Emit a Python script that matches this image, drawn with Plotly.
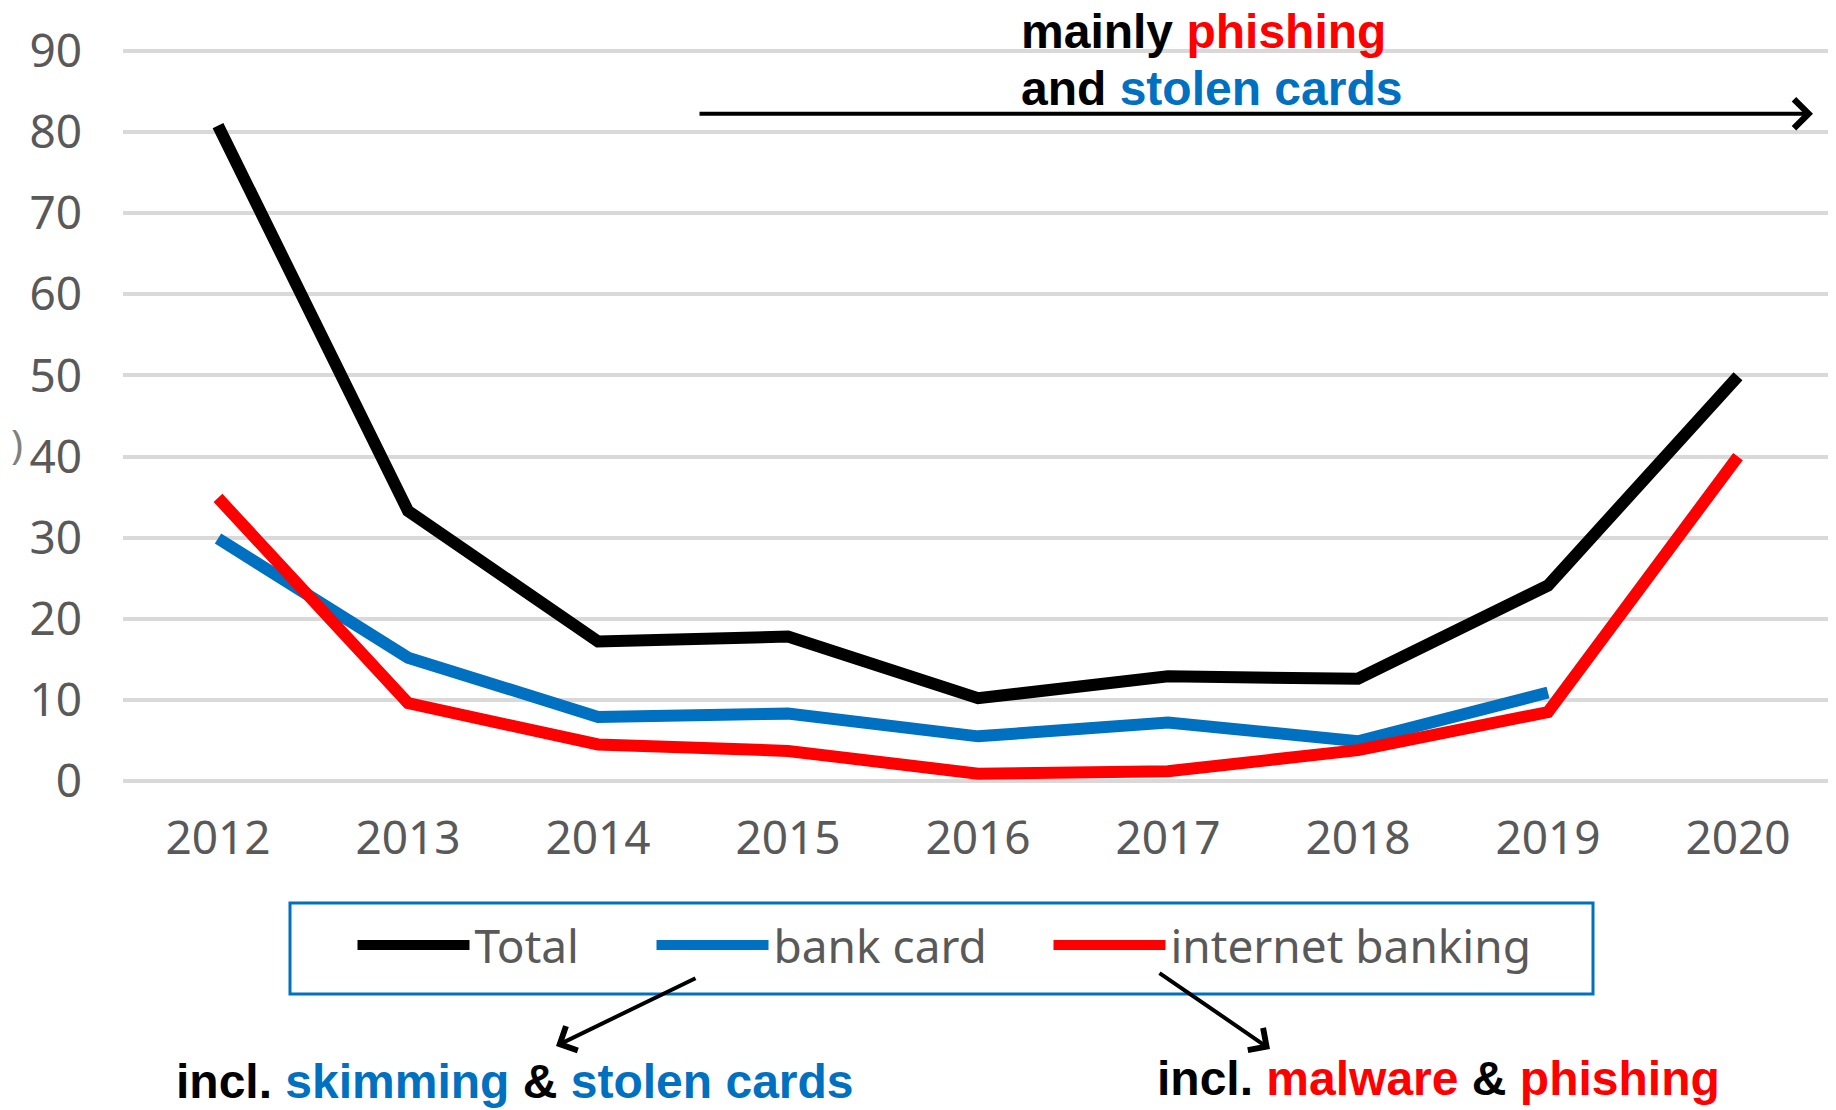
import plotly.graph_objects as go

# ---- data ----
years = ["2012", "2013", "2014", "2015", "2016", "2017", "2018", "2019", "2020"]
total = [80.8, 33.3, 17.2, 17.8, 10.2, 12.9, 12.6, 24.1, 49.9]
bank_card = [29.9, 15.2, 7.9, 8.3, 5.5, 7.2, 4.9, 10.9, None]
internet_banking = [34.9, 9.6, 4.5, 3.7, 0.9, 1.2, 3.8, 8.5, 40.0]
y_ticks = [0, 10, 20, 30, 40, 50, 60, 70, 80, 90]

series_names = ["Total", "bank card", "internet banking"]
series_colors = ["#000000", "#0070C0", "#FF0000"]
legend_ids = ["legend", "legend2", "legend3"]

# ---- layout geometry (pixels, in the reference frame) ----
OFF = 8  # page body margin of the browser
W, H = 1836, 1110
L, R, T, B = 123, 3, 47, 325
PW = W - L - R
PH = H - T - B


def px(x):
    return (x - L) / PW


def py(y):
    return (H - B - y) / PH


fig = go.Figure()
for name, vals, col, lg in zip(series_names, [total, bank_card, internet_banking], series_colors, legend_ids):
    fig.add_trace(go.Scatter(
        x=years, y=vals, name=name, mode="lines",
        line=dict(color=col, width=12),
        connectgaps=False, legend=lg,
    ))

tick_font = dict(family="Noto Sans, DejaVu Sans, sans-serif", size=46, color="#595959")
ann_font = dict(family="Liberation Sans, Arial, sans-serif", size=48, color="#000000", weight="bold")

annotations = [
    dict(text='mainly <span style="color:#FF0000">phishing</span>', x=px(1019), y=py(31),
         xref="paper", yref="paper", xanchor="left", yanchor="middle", showarrow=False, font=ann_font),
    dict(text='and <span style="color:#0070C0">stolen cards</span>', x=px(1019), y=py(88),
         xref="paper", yref="paper", xanchor="left", yanchor="middle", showarrow=False, font=ann_font),
    dict(text='incl. <span style="color:#0070C0">skimming</span> &amp; <span style="color:#0070C0">stolen cards</span>',
         x=px(174), y=py(1081), xref="paper", yref="paper", xanchor="left", yanchor="middle",
         showarrow=False, font=ann_font),
    dict(text='incl. <span style="color:#FF0000">malware</span> &amp; <span style="color:#FF0000">phishing</span>',
         x=px(1155), y=py(1078), xref="paper", yref="paper", xanchor="left", yanchor="middle",
         showarrow=False, font=ann_font),
    # arrows
    dict(text="", x=px(1813), y=py(113.7), xref="paper", yref="paper", showarrow=True,
         ax=698 - 1813, ay=0, arrowhead=4, arrowsize=1.4, arrowwidth=4, arrowcolor="#000000"),
    dict(text="", x=px(556), y=py(1046), xref="paper", yref="paper", showarrow=True,
         ax=697 - 556, ay=977.5 - 1046, arrowhead=4, arrowsize=1.3, arrowwidth=4, arrowcolor="#000000"),
    dict(text="", x=px(1270), y=py(1049), xref="paper", yref="paper", showarrow=True,
         ax=1158 - 1270, ay=972 - 1049, arrowhead=4, arrowsize=1.3, arrowwidth=4, arrowcolor="#000000"),
    # clipped fragment of the axis title at far left
    dict(text=")", x=px(17), y=py(443), xref="paper", yref="paper", showarrow=False,
         xanchor="center", yanchor="middle", font=dict(family="Noto Sans", size=40, color="#808080")),
]

shapes = [
    dict(type="rect", xref="paper", yref="paper", x0=px(290), x1=px(1593), y0=py(903), y1=py(994),
         line=dict(color="#0070C0", width=3), fillcolor="rgba(0,0,0,0)"),
]


def legend_at(xpix):
    return dict(orientation="h", x=px(xpix - 7.5), xanchor="left", y=py(945), yanchor="middle",
                font=tick_font, bgcolor="rgba(0,0,0,0)", borderwidth=0, itemwidth=112)


fig.update_layout(
    width=W - OFF, height=H - OFF,
    margin=dict(l=L - OFF, r=R, t=T - OFF, b=B, pad=0),
    paper_bgcolor="#FFFFFF", plot_bgcolor="#FFFFFF",
    showlegend=True,
    legend=legend_at(360),
    legend2=legend_at(659),
    legend3=legend_at(1056),
    xaxis=dict(type="category", range=[-0.5, 8.5], showgrid=False, zeroline=False, showline=False,
               ticks="", tickfont=tick_font, ticklabelstandoff=22),
    yaxis=dict(range=[-0.5, 90.5], tickvals=y_ticks, showgrid=True, gridcolor="#D9D9D9", gridwidth=3.5,
               zeroline=False, showline=False, ticks="", tickfont=tick_font, ticklabelstandoff=40),
    annotations=annotations,
    shapes=shapes,
)

fig.write_html("out.html")
